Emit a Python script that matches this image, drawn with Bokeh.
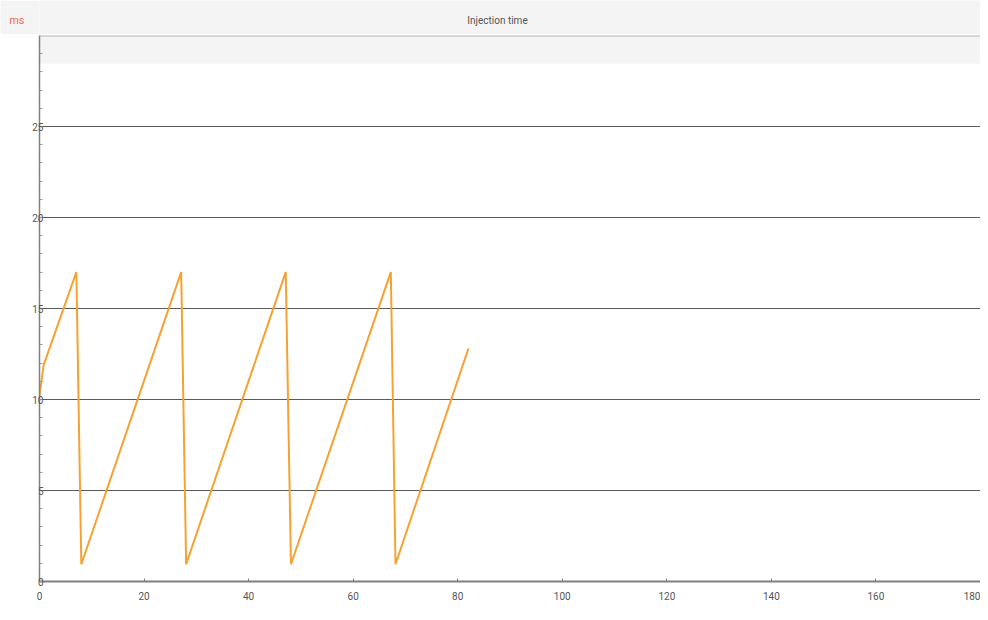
from bokeh.plotting import figure
from bokeh.layouts import column
from bokeh.models import Span, BoxAnnotation, FixedTicker, Range1d
from bokeh.core.properties import value
from bokeh.embed import file_html
from bokeh.resources import INLINE

# Data
time_x = [0, 0.8, 7.05, 8.0, 27.1, 28.05, 47.1, 48.1, 67.2, 68.1, 82.05]
inj_ms = [10.2, 11.9, 17.0, 0.95, 17.0, 0.95, 17.0, 0.95, 17.0, 0.95, 12.8]
x_ticks = [0, 20, 40, 60, 80, 100, 120, 140, 160, 180]
y_ticks = [0, 5, 10, 15, 20, 25]
title_text = "Injection time"
unit_text = "ms"

W = 980
LEFT = 39

# Header strip with unit and title
head = figure(width=W, height=34, output_backend="svg", toolbar_location=None,
              x_range=Range1d(LEFT, W), y_range=Range1d(0, 34),
              min_border_left=LEFT, min_border_right=0,
              min_border_top=0, min_border_bottom=0)
head.xaxis.visible = False
head.grid.visible = False
head.outline_line_color = None
head.background_fill_color = "#f4f4f4"
head.border_fill_color = "#f4f4f4"
head.yaxis.ticker = FixedTicker(ticks=[14], minor_ticks=[])
head.yaxis.major_label_overrides = {14: unit_text}
head.yaxis.axis_line_color = None
head.yaxis.major_tick_line_color = None
head.yaxis.minor_tick_line_color = None
head.yaxis.major_label_text_color = "#f26b4f"
head.yaxis.major_label_text_font = "Roboto"
head.yaxis.major_label_text_font_size = "11px"
head.yaxis.major_label_standoff = 9
head.text(x=[497], y=[14], text=[title_text], text_color="#555555",
          text_font=value("Roboto"), text_font_size="10px",
          text_align="center", text_baseline="middle")

p = figure(width=W, height=573, output_backend="svg", toolbar_location=None,
           x_range=Range1d(0, 180), y_range=Range1d(0, 30),
           min_border_left=LEFT, min_border_right=0, min_border_top=1,
           min_border_bottom=26)
p.title = None
p.background_fill_color = "white"
p.border_fill_color = "white"
p.outline_line_color = None

band = BoxAnnotation(bottom=28.45, fill_color="#f4f4f4", fill_alpha=1.0,
                     line_color=None, level="underlay")
p.add_layout(band)

p.line(time_x, inj_ms, line_color="#f5a230", line_width=2)

top_line = Span(location=30, dimension="width", line_color="#b4b4b4", line_width=2)
p.add_layout(top_line)

p.xgrid.visible = False
p.ygrid.grid_line_color = "#5a5a5a"
p.ygrid.grid_line_width = 1
p.ygrid.ticker = FixedTicker(ticks=y_ticks[1:])

p.xaxis.ticker = FixedTicker(ticks=x_ticks)
p.yaxis.ticker = FixedTicker(ticks=y_ticks, minor_ticks=list(range(0, 30)))

for ax in (p.xaxis[0], p.yaxis[0]):
    ax.axis_line_color = "#808080"
    ax.major_tick_line_color = "#808080"
    ax.minor_tick_line_color = "#999999"
    ax.major_label_text_color = "#555555"
    ax.major_label_text_font = "Roboto"
    ax.major_label_text_font_size = "10px"

p.xaxis.axis_line_width = 2
p.xaxis.major_tick_in = 3
p.xaxis.major_tick_out = 0
p.xaxis.minor_tick_line_color = None
p.xaxis.major_label_standoff = 10

p.yaxis.axis_line_width = 1.5
p.yaxis.major_tick_in = 0
p.yaxis.major_tick_out = 0
p.yaxis.minor_tick_in = 3
p.yaxis.minor_tick_out = 0
p.yaxis.major_label_standoff = -4

layout = column(head, p, spacing=0)
open("out.html", "w").write(file_html(layout, INLINE))
